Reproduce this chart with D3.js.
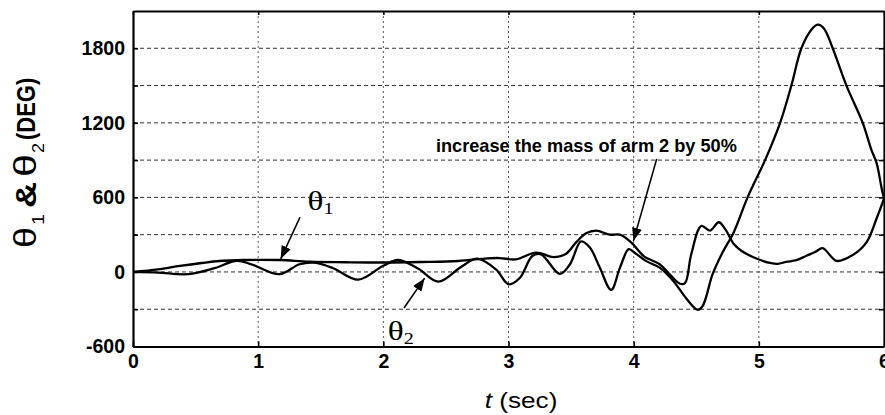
<!DOCTYPE html>
<html><head><meta charset="utf-8">
<script src="https://cdn.jsdelivr.net/npm/d3@7"></script>
<style>body{margin:0;background:#fff} svg{display:block}</style>
</head><body>
<svg id="chart" width="885" height="415"></svg>
<script>
// ---- data ----
const theta1Time = [0,0.2,0.375,0.55,0.69,0.88,1.17,1.41,1.7,2.0,2.3,2.6,2.83,2.93,3.06,3.22,3.36,3.46,3.54,3.62,3.70,3.81,3.89,3.98,4.08,4.21,4.29,4.37,4.41,4.46,4.54,4.61,4.68,4.73,4.80,4.86,4.98,5.10,5.15,5.22,5.30,5.38,5.45,5.51,5.62,5.75,5.86,5.94,6.0];
const theta1Deg  = [0,20,48,72,88,96,96,82,78,76,80,88,110,112,101,156,120,147,238,311,333,300,300,238,128,60,-22,-95,-90,142,370,333,400,347,225,171,108,70,65,81,95,130,160,192,89,136,238,428,590];
const theta2Time = [0,0.2,0.44,0.65,0.83,0.95,1.17,1.33,1.45,1.6,1.8,2.0,2.12,2.28,2.44,2.62,2.75,2.9,3.0,3.09,3.19,3.26,3.41,3.49,3.58,3.65,3.73,3.82,3.89,3.96,4.0,4.10,4.21,4.32,4.42,4.51,4.55,4.63,4.71,4.80,4.91,5.05,5.17,5.26,5.34,5.42,5.47,5.52,5.59,5.70,5.83,5.90,5.94,5.98,6.0];
const theta2Deg  = [0,-5,-18,30,90,60,-18,62,75,30,-62,50,96,25,-78,40,107,20,-99,-49,128,142,-16,60,246,197,33,-145,33,183,160,87,33,-76,-213,-304,-276,-20,157,320,600,900,1200,1500,1800,1950,1990,1960,1800,1500,1200,980,880,680,590];
const xTickValues = [0,1,2,3,4,5,6];
const yTickValues = [-600,-300,0,300,600,900,1200,1500,1800];
const yLabelStep = 600;
const annotationText = "increase the mass of arm 2 by 50%";

const svg = d3.select("#chart");
const x = d3.scaleLinear().domain([0,6]).range([133,884]);
const y = d3.scaleLinear().domain([-600,2100]).range([346.5,11]);
const SX = 1.19; // horizontal stretch of some scanned lettering
const SANS = "'Liberation Sans', Arial, sans-serif";

// grid
const grid = svg.append("g");
grid.selectAll("line.h").data(yTickValues.filter(v=>v>-600)).join("line")
  .attr("x1",x(0)).attr("x2",885).attr("y1",d=>y(d)).attr("y2",d=>y(d))
  .attr("stroke","#333").attr("stroke-width",1).attr("stroke-dasharray","4,3");
grid.selectAll("line.v").data(xTickValues.filter(v=>v>0&&v<6)).join("line")
  .attr("x1",d=>x(d)).attr("x2",d=>x(d)).attr("y1",y(2100)).attr("y2",y(-600))
  .attr("stroke","#555").attr("stroke-width",1).attr("stroke-dasharray","2,3");

// axes
const yAxis = d3.axisLeft(y).tickValues(yTickValues).tickSizeInner(-5).tickSizeOuter(0)
  .tickPadding(8).tickFormat(d => d % yLabelStep === 0 ? d : "");
const gy = svg.append("g").attr("transform",`translate(${x(0)},0)`).call(yAxis);
const xAxis = d3.axisBottom(x).tickValues(xTickValues).tickSizeInner(-5).tickSizeOuter(0)
  .tickPadding(8).tickFormat(d3.format("d"));
const gx = svg.append("g").attr("transform",`translate(0,${y(-600)})`).call(xAxis);
const rAxis = d3.axisRight(y).tickValues(yTickValues).tickSizeInner(-5).tickSizeOuter(0).tickFormat("");
const gr = svg.append("g").attr("transform",`translate(${x(6)},0)`).call(rAxis);
const tAxis = d3.axisTop(x).tickValues(xTickValues).tickSizeInner(-4).tickSizeOuter(0).tickFormat("");
const gt = svg.append("g").attr("transform",`translate(0,${y(2100)})`).call(tAxis);
[gy,gx,gr,gt].forEach(g=>{
  g.select(".domain").attr("stroke","#000").attr("stroke-width",2.2);
  g.selectAll(".tick line").attr("stroke","#000").attr("stroke-width",1.6);
  g.selectAll("text").attr("fill","#000").attr("font-family",SANS)
    .attr("font-weight","bold").attr("font-size",19.5);
});

// curves
const line = d3.line().x(d=>x(d.t)).y(d=>y(d.v)).curve(d3.curveCatmullRom.alpha(0.5));
const s1 = theta1Time.map((t,i)=>({t, v:theta1Deg[i]}));
const s2 = theta2Time.map((t,i)=>({t, v:theta2Deg[i]}));
[s1,s2].forEach(s=>svg.append("path").datum(s).attr("d",line).attr("fill","none")
  .attr("stroke","#000").attr("stroke-width",2.3).attr("stroke-linejoin","round"));

// arrow marker
svg.append("defs").append("marker").attr("id","ah").attr("markerUnits","userSpaceOnUse")
  .attr("markerWidth",14).attr("markerHeight",10).attr("refX",13).attr("refY",5).attr("orient","auto")
  .append("path").attr("d","M0,0 L13,5 L0,10 Z").attr("fill","#000");
function arrow(t0,v0,t1,v1){
  svg.append("line").attr("x1",x(t0)).attr("y1",y(v0)).attr("x2",x(t1)).attr("y2",y(v1))
    .attr("stroke","#000").attr("stroke-width",1.6).attr("marker-end","url(#ah)");
}
arrow(1.334,440,1.18,105);
arrow(2.165,-290,2.33,-50);
arrow(4.184,910,3.998,250);

// series labels
function thetaLabel(t,v,sub){
  const g = svg.append("g").attr("transform",`translate(${x(t)},${y(v)}) scale(${SX},1)`);
  const tx = g.append("text").attr("font-family","'Liberation Serif', 'Times New Roman', serif").attr("fill","#000");
  tx.append("tspan").attr("font-size",28).text("θ");
  tx.append("tspan").attr("font-size",17).attr("dy",4).text(sub);
}
thetaLabel(1.395,500,"1");
thetaLabel(2.035,-545,"2");

svg.append("text").attr("x",x(2.42)).attr("y",y(965)).attr("font-family",SANS)
  .attr("font-weight","bold").attr("font-size",18.5).attr("fill","#000").text(annotationText)
  .attr("textLength",301).attr("lengthAdjust","spacingAndGlyphs");

// x axis title
const xl = svg.append("g").attr("transform",`translate(${x(3.1)},408) scale(${SX},1)`)
  .append("text").attr("text-anchor","middle").attr("font-family",SANS)
  .attr("font-size",22).attr("fill","#000");
xl.append("tspan").attr("font-style","italic").text("t");
xl.append("tspan").text(" (sec)");

// y axis title, built piece by piece along the rotated baseline
const ylg = svg.append("g").attr("transform",`translate(36,164) scale(${SX},1) rotate(-90)`);
const yPieces = [
  {s:"θ",   x:-84, len:21, size:27, w:"normal", dy:0},
  {s:"1",   x:-61, len:11, size:14, w:"normal", dy:7},
  {s:"&",   x:-44, len:26, size:25, w:"bold",   dy:0},
  {s:"θ",   x:-13, len:23, size:27, w:"normal", dy:0},
  {s:"2",   x:11,  len:10, size:14, w:"normal", dy:7},
  {s:"(DEG)",x:24, len:null, size:22, w:"bold", dy:-1}
];
yPieces.forEach(p=>{
  const t = ylg.append("text").attr("x",p.x).attr("y",p.dy).attr("font-family",SANS)
    .attr("font-size",p.size).attr("font-weight",p.w).attr("fill","#000").text(p.s);
  if (p.len) t.attr("textLength",p.len).attr("lengthAdjust","spacingAndGlyphs");
});
</script>
</body></html>
